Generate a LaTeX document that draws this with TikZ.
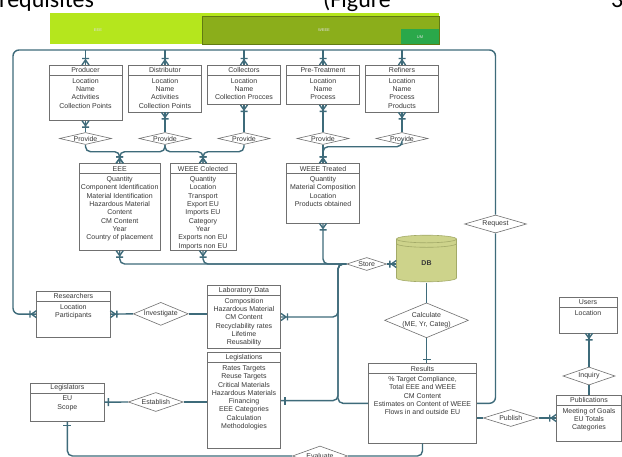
\documentclass[tikz,border=0pt]{standalone}
\usepackage{fontspec}
\setmainfont{Liberation Sans}
\newfontfamily\pagefont{Carlito}
\usetikzlibrary{arrows.meta,positioning,shapes.geometric,calc}

\definecolor{connblue}{HTML}{3E6B7A}
\definecolor{boxgray}{HTML}{707070}
\definecolor{txtgray}{HTML}{383838}
\definecolor{barlime}{HTML}{B5E61D}
\definecolor{barolive}{HTML}{8BAE1B}
\definecolor{bargreen}{HTML}{2AA84A}
\definecolor{dbfill}{HTML}{CDD38B}
\definecolor{dbline}{HTML}{A3AA68}

% ER end markers
\pgfdeclarearrow{
  name = CrowFoot,
  setup code = {
    \pgfarrowssettipend{0pt}
    \pgfarrowssetbackend{-7pt}
    \pgfarrowssetlineend{0pt}
    \pgfarrowsupperhullpoint{0pt}{3.5pt}
    \pgfarrowsupperhullpoint{-7pt}{3.5pt}
  },
  drawing code = {
    \pgfpathmoveto{\pgfqpoint{-5pt}{0pt}}
    \pgfpathlineto{\pgfqpoint{0pt}{3.5pt}}
    \pgfpathmoveto{\pgfqpoint{-5pt}{0pt}}
    \pgfpathlineto{\pgfqpoint{0pt}{-3.5pt}}
    \pgfpathmoveto{\pgfqpoint{-6.5pt}{3.5pt}}
    \pgfpathlineto{\pgfqpoint{-6.5pt}{-3.5pt}}
    \pgfusepathqstroke
  }
}
\pgfdeclarearrow{
  name = OneBar,
  setup code = {
    \pgfarrowssettipend{0pt}
    \pgfarrowssetbackend{-5pt}
    \pgfarrowssetlineend{0pt}
    \pgfarrowsupperhullpoint{0pt}{4pt}
    \pgfarrowsupperhullpoint{-5pt}{4pt}
  },
  drawing code = {
    \pgfpathmoveto{\pgfqpoint{-4pt}{4pt}}
    \pgfpathlineto{\pgfqpoint{-4pt}{-4pt}}
    \pgfusepathqstroke
  }
}

\tikzset{
  entbox/.style={draw=boxgray, line width=0.6pt, fill=white, inner sep=0pt, anchor=north},
  enthead/.style={draw=boxgray, line width=0.6pt, inner sep=0pt, minimum height=10pt, anchor=north,
    font=\fontsize{7}{8.3}\selectfont, text=txtgray},
  entbody/.style={inner sep=0pt, anchor=north, align=center, font=\fontsize{7}{8.3}\selectfont, text=txtgray},
  rel/.style={diamond, draw=boxgray, line width=0.6pt, fill=white, inner sep=0pt, align=center,
    font=\fontsize{7}{8.3}\selectfont, text=txtgray},
  conn/.style={draw=connblue, line width=1.4pt, rounded corners=5pt},
  barlbl/.style={font=\fontsize{4}{5}\selectfont, text=white!75!gray, inner sep=0pt},
  pagetxt/.style={font=\pagefont\fontsize{24}{28}\selectfont, anchor=base west, inner sep=0pt},
}

% entity box: name, top centre, width, height, title, fields
\newcommand{\entity}[6]{%
  \node[entbox, minimum width=#3, minimum height=#4] (#1) at (#2) {};
  \node[enthead, minimum width=#3] (#1-h) at (#1.north) {#5};
  \node[entbody] (#1-b) at ([yshift=-2.5pt]#1-h.south) {#6};
}

\begin{document}
\begin{tikzpicture}[x=1pt, y=-1pt]
  \useasboundingbox (0,0) rectangle (622,456);
  \clip (0,0) rectangle (622,456);
  \fill[white] (0,0) rectangle (622,456);

  % page text and colour bar
  \node[pagetxt] (ptxt1) at (-1,7.5) {requisites};
  \node[pagetxt] (ptxt2) at (323,7.5) {(Figure};
  \node[pagetxt] (ptxt3) at (611,7.5) {3};
  \fill[barlime] (50,13) rectangle (439,44);
  \filldraw[fill=barolive, draw=barolive!70!black, line width=0.4pt] (202,16) rectangle (439,44);
  \fill[bargreen] (401,29) rectangle (439,44);
  \node[barlbl] (lbleee) at (98,30) {EEE};
  \node[barlbl] (lblweee) at (324,30) {WEEE};
  \node[barlbl] (lblum) at (420,37) {UM};

  \entity{prod}{85.5,65}{73pt}{55pt}{Producer}{Location\\Name\\Activities\\Collection Points}
  \entity{dist}{165,65}{73pt}{46.7pt}{Distributor}{Location\\Name\\Activities\\Collection Points}
  \entity{coll}{244,65}{73pt}{39.3pt}{Collectors}{Location\\Name\\Collection Procces}
  \entity{pret}{323,65}{73pt}{39.3pt}{Pre-Treatment}{Location\\Name\\Process}
  \entity{refi}{402,65}{73pt}{46.7pt}{Refiners}{Location\\Name\\Process\\Products}

  \entity{eee}{119.7,163.3}{80.7pt}{86.7pt}{EEE}{Quantity\\Component Identification\\Material Identification\\Hazardous Material\\Content\\CM Content\\Year\\Country of placement}
  \entity{wcol}{203,163.3}{66pt}{86.7pt}{WEEE Colected}{Quantity\\Location\\Transport\\Export EU\\Imports EU\\Category\\Year\\Exports non EU\\Imports non EU}
  \entity{wtre}{323,163.3}{73.3pt}{59.4pt}{WEEE Treated}{Quantity\\Material Composition\\Location\\Products obtained}

  \entity{res}{73.4,291}{73.3pt}{45.7pt}{Researchers}{Location\\Participants}
  \entity{lab}{244,285}{73.4pt}{63.3pt}{Laboratory Data}{Composition\\Hazardous Material\\CM Content\\Recyclability rates\\Lifetime\\Reusability}
  \entity{legi}{244,352.3}{73.4pt}{96pt}{Legislations}{Rates Targets\\Reuse Targets\\Critical Materials\\Hazardous Materials\\Financing\\EEE Categories\\Calculation\\Methodologies}
  \entity{legs}{67.4,382.7}{73.3pt}{38.3pt}{Legislators}{EU\\Scope}
  \entity{rslt}{422.5,363.3}{108.4pt}{79.4pt}{Results}{\% Target Compliance,\\Total EEE and WEEE\\CM Content\\Estimates on Content of WEEE\\Flows in and outside EU}
  \entity{users}{588,296.7}{58.4pt}{36pt}{Users}{Location}
  \entity{pubs}{589,395}{65pt}{45.7pt}{Publications}{Meeting of Goals\\EU Totals\\Categories}

  % database
  \node[minimum width=60pt, minimum height=47pt, inner sep=0pt] (db) at (426.5,259) {};
  \filldraw[fill=dbfill, draw=dbline, line width=0.6pt] (396.5,239) -- (396.5,278)
    arc[start angle=180, end angle=360, x radius=30pt, y radius=3.8pt] -- (456.5,239)
    arc[start angle=0, end angle=180, x radius=30pt, y radius=3.8pt] -- cycle;
  \draw[dbline, line width=0.6pt] (396.5,239) arc[start angle=180, end angle=360, x radius=30pt, y radius=3.8pt];
  \draw[dbline, line width=0.6pt] (396.5,243.5) arc[start angle=180, end angle=360, x radius=30pt, y radius=3.8pt];
  \node[font=\fontsize{7}{8}\selectfont\bfseries, text=txtgray] (dblbl) at (426.5,263.5) {DB};

  % relationships
  \coordinate (pvy) at (0,138.5);
  \foreach \e/\d in {prod/pv1, dist/pv2, coll/pv3, pret/pv4, refi/pv5}
    \node[rel, aspect=4.3, minimum width=52pt, minimum height=12pt] (\d) at (\e.south |- pvy) {Provide};
  \node[rel, aspect=3, minimum width=40pt, minimum height=13pt] (store) at (366.7,264) {Store};
  \node[rel, aspect=2.4, minimum width=83pt, minimum height=34pt] (calc) at (426.5,320.3) {Calculate\\(ME, Yr, Categ)};
  \node[rel, aspect=3.4, minimum width=62pt, minimum height=18pt] (reqd) at (495.5,224) {Request};
  \node[rel, aspect=2.4, minimum width=55pt, minimum height=23pt] (invd) at (160.8,313.85) {Investigate};
  \node[rel, aspect=2.9, minimum width=55pt, minimum height=19pt] (estd) at (155.8,402) {Establish};
  \node[rel, aspect=3.2, minimum width=55pt, minimum height=17pt] (pubd) at (510.8,418) {Publish};
  \node[rel, aspect=2.9, minimum width=52pt, minimum height=18pt] (inqd) at (589,376) {Inquiry};
  \node[rel, aspect=2.75, minimum width=55pt, minimum height=20pt] (evad) at (320,456) {Evaluate};

  % connectors
  \coordinate (ftop) at (0,50);
  \coordinate (pj) at (0,151.7);
  \coordinate (pk) at (0,146.7);
  \coordinate (trunk) at (338,0);

  \draw[conn, rounded corners=6pt, -CrowFoot] (reqd.north) |- (13,50) |- (res.west);
  \foreach \e in {prod,dist,coll,pret,refi}
    \draw[conn, -CrowFoot] (\e.north |- ftop) -- (\e.north);
  \draw[conn, rounded corners=6pt] (rslt.east) -| (reqd.south);

  \foreach \e/\d in {prod/pv1, dist/pv2, coll/pv3, pret/pv4, refi/pv5}
    \draw[conn, CrowFoot-] (\e.south) -- (\d.north);
  \draw[conn, -CrowFoot] (pv1.south) |- (eee.north |- pj) -- (eee.north);
  \draw[conn, -CrowFoot] (pv2.south) |- (eee.north |- pj) -- (eee.north);
  \draw[conn, -CrowFoot] (pv2.south) |- (wcol.north |- pj) -- (wcol.north);
  \draw[conn, -CrowFoot] (pv3.south) |- (wcol.north |- pj) -- (wcol.north);
  \draw[conn, -CrowFoot] (pv4.south) -- (wtre.north);
  \draw[conn, -CrowFoot] (pv5.south) |- (wtre.north |- pk) -- (wtre.north);

  \draw[conn, CrowFoot-] (eee.south) |- (store.west);
  \draw[conn, CrowFoot-] (wcol.south) |- (store.west);
  \draw[conn, CrowFoot-] (wtre.south) |- (store.west);
  \draw[conn, CrowFoot-] (lab.east) -| (trunk |- store.west) -- (store.west);
  \draw[conn, OneBar-] (legi.east) -| (trunk |- store.west) -- (store.west);
  \draw[conn] (rslt.west) -| (trunk |- store.west) -- (store.west);
  \draw[conn, -CrowFoot] (store.east) -- (db.west |- store.east);

  \draw[conn] (db.south) -- (calc.north);
  \draw[conn, -OneBar] (calc.south) -- (calc.south |- rslt.north);

  \draw[conn, CrowFoot-] (res.east) -- (invd.west);
  \draw[conn] (invd.east) -- (lab.west |- invd.east);
  \draw[conn, OneBar-] (legs.east) -- (estd.west);
  \draw[conn] (estd.east) -- (legi.west |- estd.east);
  \draw[conn, OneBar-] (legs.south) |- (evad.west);
  \draw[conn] (evad.east) -| (rslt.south);

  \draw[conn] (rslt.east |- pubd.west) -- (pubd.west);
  \draw[conn, -CrowFoot] (pubd.east) -- (pubs.west |- pubd.east);
  \draw[conn, -CrowFoot] (inqd.north) -- (inqd.north |- users.south);
  \draw[conn] (inqd.south) -- (pubs.north);
\end{tikzpicture}
\end{document}
